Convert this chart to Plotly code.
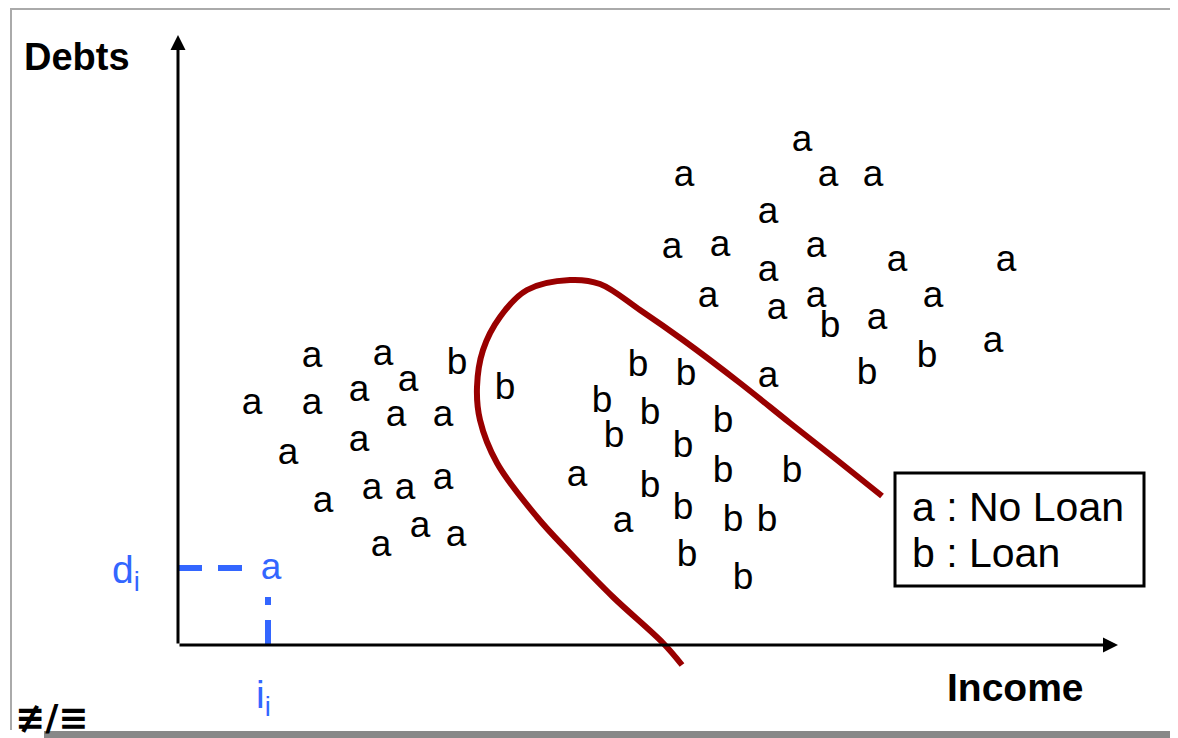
import plotly.graph_objects as go

# ---- data (Income, Debts) ----
a_income = [624, 506, 650, 695, 590, 494, 542, 638, 590, 719, 828, 530, 638, 599, 755, 699, 815, 590,
            399, 445,
            134, 205, 230, 181, 74, 134, 218, 265, 181, 110, 265, 194, 227, 145, 242, 278, 203]
a_debts = [503, 468, 468, 468, 431, 396, 398, 397, 373, 383, 383, 347, 347, 335, 347, 325, 302, 267,
           168, 122,
           287, 289, 263, 253, 240, 240, 228, 228, 203, 190, 165, 155, 155, 142, 117, 108, 98]

b_income = [279, 327, 460, 508, 424, 472, 545, 436, 505, 545, 614, 472, 505, 555, 589, 509, 565, 652, 749, 689]
b_debts = [280, 255, 278, 269, 242, 230, 222, 207, 197, 172, 172, 157, 135, 123, 123, 88, 65, 317, 287, 270]

boundary_income = [504, 485, 435, 392, 359, 319, 302, 299, 305, 322, 349, 392, 422, 462, 505, 562, 612, 659, 704]
boundary_debts = [-20, 2, 48, 92, 128, 182, 225, 258, 295, 328, 355, 365, 361, 335, 305, 262, 222, 185, 149]

sample_income = [93]
sample_debts = [75]

legend_lines = ["a : No Loan", "b : Loan"]

FONT = "Liberation Sans, Arial, sans-serif"
BLUE = "#3366ff"
RED = "#990000"

fig = go.Figure()

# decision boundary
fig.add_trace(go.Scatter(x=boundary_income, y=boundary_debts, mode="lines",
                         line=dict(color=RED, width=6, shape="spline", smoothing=1.0),
                         hoverinfo="skip"))

# dashed guides to the sample point
fig.add_trace(go.Scatter(x=[0, 70], y=[77, 77], mode="lines",
                         line=dict(color=BLUE, width=6, dash="24px,16px"), hoverinfo="skip"))
fig.add_trace(go.Scatter(x=[90, 90], y=[0, 48], mode="lines",
                         line=dict(color=BLUE, width=6, dash="25px,15px"), hoverinfo="skip"))

fig.add_trace(go.Scatter(x=a_income, y=a_debts, mode="text", text=["a"] * len(a_income),
                         textposition="middle center",
                         textfont=dict(family=FONT, size=37, color="black"), name="a"))
fig.add_trace(go.Scatter(x=b_income, y=b_debts, mode="text", text=["b"] * len(b_income),
                         textposition="middle center",
                         textfont=dict(family=FONT, size=37, color="black"), name="b"))
fig.add_trace(go.Scatter(x=sample_income, y=sample_debts, mode="text", text=["a"],
                         textposition="middle center",
                         textfont=dict(family=FONT, size=37, color=BLUE), name="sample"))

annotations = [
    # axes arrows
    dict(x=940, y=0, ax=0, ay=0, axref="x", ayref="y", xref="x", yref="y", text="",
         showarrow=True, arrowhead=2, arrowsize=1.0, arrowwidth=3, arrowcolor="black"),
    dict(x=0, y=610, ax=0, ay=0, axref="x", ayref="y", xref="x", yref="y", text="",
         showarrow=True, arrowhead=2, arrowsize=1.0, arrowwidth=3, arrowcolor="black"),
    dict(x=-101, y=588, text="<b>Debts</b>", showarrow=False,
         font=dict(family=FONT, size=38, color="black")),
    dict(x=837, y=-42, text="<b>Income</b>", showarrow=False,
         font=dict(family=FONT, size=39, color="black")),
    dict(x=-52, y=73, text="d<sub>i</sub>", showarrow=False,
         font=dict(family=FONT, size=39, color=BLUE)),
    dict(x=85, y=-52, text="i<sub>i</sub>", showarrow=False,
         font=dict(family=FONT, size=39, color=BLUE)),
    dict(x=732, y=138, text=legend_lines[0], showarrow=False, xanchor="left",
         font=dict(family=FONT, size=41, color="black")),
    dict(x=732, y=92, text=legend_lines[1], showarrow=False, xanchor="left",
         font=dict(family=FONT, size=41, color="black")),
    dict(x=-127, y=-72, text="<b>≢/≡</b>", showarrow=False,
         font=dict(family="DejaVu Sans", size=36, color="black")),
]

shapes = [
    # legend box
    dict(type="rect", x0=717, x1=966, y0=59, y1=172, xref="x", yref="y",
         line=dict(color="black", width=3), fillcolor="rgba(0,0,0,0)"),
    # frame
    dict(type="line", x0=3 / 1178, x1=1, y0=1 - 1 / 730, y1=1 - 1 / 730, xref="paper", yref="paper",
         line=dict(color="#aaaaaa", width=2)),
    dict(type="line", x0=3 / 1178, x1=3 / 1178, y0=1, y1=8 / 730, xref="paper", yref="paper",
         line=dict(color="#aaaaaa", width=2)),
    dict(type="rect", x0=-134, x1=1008, y0=-86, y1=-93, xref="x", yref="y",
         line=dict(width=0), fillcolor="#888888"),
]

# the page adds an 8px body margin, so the figure is offset by 8px
fig.update_layout(
    width=1178, height=730,
    margin=dict(l=0, r=0, t=0, b=0),
    paper_bgcolor="white", plot_bgcolor="white",
    showlegend=False,
    xaxis=dict(range=[-170, 1008], visible=False, fixedrange=True),
    yaxis=dict(range=[-93, 637], visible=False, fixedrange=True),
    annotations=annotations,
    shapes=shapes,
)

fig.write_html("out.html")
